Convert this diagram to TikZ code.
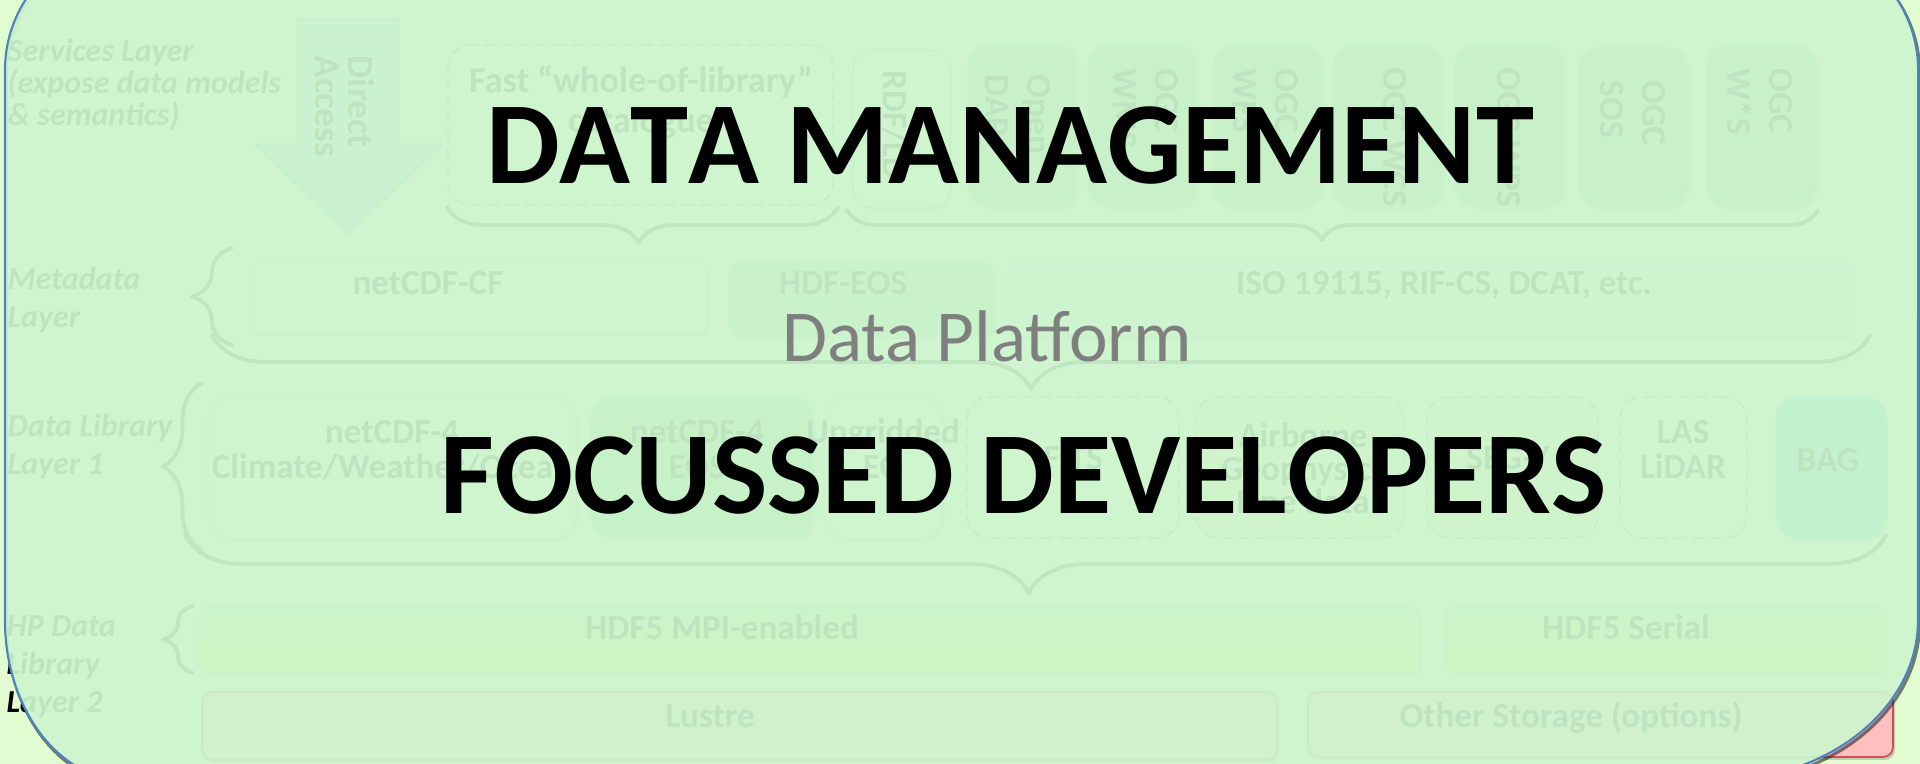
\documentclass[tikz,border=0pt]{standalone}
\usepackage{fontspec}
\setmainfont{Carlito}
\usetikzlibrary{decorations.pathreplacing,shadows}

\definecolor{slidebg}{HTML}{E0FCD0}
\definecolor{veil}{HTML}{CDF5CE}
\definecolor{veilline}{HTML}{4F81BD}
\definecolor{svcfill}{HTML}{90C89C}
\definecolor{rdffill}{HTML}{E4FFD8}
\definecolor{rdfline}{HTML}{70C070}
\definecolor{arrowfill}{HTML}{A6D4F2}
\definecolor{arrowline}{HTML}{7AAAD8}
\definecolor{dashline}{HTML}{606060}
\definecolor{paleboxfill}{HTML}{EAFFE6}
\definecolor{paleboxline}{HTML}{A8D8A8}
\definecolor{greenbox}{HTML}{A0D8A0}
\definecolor{eosfill}{HTML}{86D286}
\definecolor{creamfill}{HTML}{F4F0A8}
\definecolor{bagfill}{HTML}{3CC8D4}
\definecolor{hdftop}{HTML}{B8E8A0}
\definecolor{hdfbot}{HTML}{F8F838}
\definecolor{storefill}{HTML}{FFBFBF}
\definecolor{storeline}{HTML}{D05050}
\definecolor{bracecol}{HTML}{202020}
\definecolor{platgray}{HTML}{7F7F7F}

% box from top-left (x1,y1) to bottom-right (x2,y2), in pixel units
\newcommand\pxbox[6]{\node[#2, minimum width={(#5-#3)*0.01cm}, minimum height={(#6-#4)*0.01cm}] (#1) at ({(#3+#5)/2},{(#4+#6)/2}) {};}

\begin{document}
\begin{tikzpicture}[x=0.01cm, y=-0.01cm,
  base box/.style={rectangle, inner sep=0pt, outer sep=0pt, line width=0.35pt,
    drop shadow={shadow xshift=0.02cm, shadow yshift=-0.03cm, opacity=0.35}},
  svcbox/.style={base box, rounded corners=0.2cm, fill=svcfill, draw=svcfill!80!white},
  rdfbox/.style={base box, rounded corners=0.2cm, fill=rdffill, draw=rdfline},
  dashbox/.style={rectangle, inner sep=0pt, rounded corners=0.22cm, draw=dashline, dashed, line width=0.35pt, dash pattern=on 3pt off 2pt},
  metabox/.style={base box, rounded corners=0.12cm, fill=paleboxfill, draw=paleboxline},
  libbox/.style={base box, rounded corners=0.22cm, fill=paleboxfill, draw=paleboxline},
  hdfbox/.style={base box, rounded corners=0.1cm, top color=hdftop, bottom color=hdfbot, draw=paleboxline},
  storebox/.style={base box, rounded corners=0.1cm, fill=storefill, draw=storeline, line width=0.5pt},
  layerlbl/.style={font=\fontsize{9.1}{10.9}\selectfont\bfseries\itshape, align=left, anchor=base west, inner sep=0pt, text=black},
  boxtxt/.style={font=\fontsize{10}{10.2}\selectfont\bfseries, align=center, anchor=base, inner sep=0pt, text=black},
  vtxt/.style={font=\fontsize{10}{12.2}\selectfont\bfseries, align=left, anchor=base west, rotate=-90, inner sep=0pt, text=black},
  bracket/.style={decorate, draw=bracecol, line width=1.1pt, line cap=round, line join=round},
  bigtxt/.style={font=\fontsize{33.3}{40}\selectfont\bfseries\addfontfeatures{Kerning=Off}, anchor=base, inner sep=0pt, text=black},
]
\useasboundingbox (0,0) rectangle (1920,764);
\fill[slidebg] (0,0) rectangle (1920,764);

% multi-line nodes are placed by the baseline of their last line
% ---------------- layer labels ----------------
\node[layerlbl, font=\fontsize{9.1}{9.1}\selectfont\bfseries\itshape] (lsvc) at (7,126) {Services Layer\\(expose data models\\\& semantics)};
\node[layerlbl] (lmeta) at (7,328) {Metadata\\Layer};
\node[layerlbl] (llib) at (7,475) {Data Library\\Layer 1};
\node[layerlbl] (lhp) at (6,713) {HP Data\\Library\\Layer 2};

% ---------------- services layer ----------------
\draw[fill=arrowfill, draw=arrowline, line width=0.35pt]
  (298,19) -- (398,19) -- (398,144) -- (442,144) -- (348,235) -- (255,144) -- (298,144) -- cycle;
\node[vtxt, font=\fontsize{10.5}{9.4}\selectfont\bfseries] (direct) at (315,55) {Direct\\Access};

\pxbox{fast}{dashbox}{448}{45}{833}{205}
\node[boxtxt, font=\fontsize{10.3}{11.4}\selectfont\bfseries] (fastt) at (641,133) {Fast “whole-of-library”\\catalogue};

\pxbox{rdf}{rdfbox}{853}{50}{950}{208}
\pxbox{opendap}{svcbox}{968}{45}{1078}{207}
\pxbox{wms}{svcbox}{1088}{45}{1197}{207}
\pxbox{wfs}{svcbox}{1213}{45}{1322}{207}
\pxbox{wcs}{svcbox}{1333}{45}{1443}{207}
\pxbox{wps}{svcbox}{1455}{45}{1565}{207}
\pxbox{sos}{svcbox}{1578}{47}{1688}{207}
\pxbox{wxs}{svcbox}{1706}{45}{1816}{207}
\node[vtxt] (rdft) at (883,70) {RDF/LD};
\node[vtxt] (opendapt) at (985,74) {Open\\DAP};
\node[vtxt] (wmst) at (1113,68) {OGC\\WMS};
\node[vtxt] (wfst) at (1233,68) {OGC\\WFS};
\node[vtxt] (wcst) at (1383,67) {OGC WCS};
\node[vtxt] (wpst) at (1497,67) {OGC WPS};
\node[vtxt] (sost) at (1600,80) {OGC\\SOS};
\node[vtxt] (wxst) at (1727,68) {OGC\\W*S};

\draw[bracket, decoration={brace, mirror, amplitude=0.36cm, aspect=0.49}] (447,207) -- (838,207);
\draw[bracket, decoration={brace, mirror, amplitude=0.30cm, aspect=0.489}] (847,210) -- (1818,210);

% ---------------- metadata layer ----------------
\pxbox{cf}{metabox}{249}{262}{708}{333}
\pxbox{hdfeos}{metabox, fill=greenbox}{729}{262}{994}{336}
\pxbox{iso}{metabox, fill=paleboxfill!70!greenbox}{1008}{260}{1853}{337}
\node[boxtxt] (cft) at (428,295) {netCDF-CF};
\node[boxtxt] (hdfeost) at (843,295) {HDF-EOS};
\node[boxtxt] (isot) at (1444,295) {ISO 19115, RIF-CS, DCAT, etc.};
\draw[bracket, decoration={brace, amplitude=0.40cm}] (232,345) -- (232,248);
\draw[bracket, decoration={brace, mirror, amplitude=0.54cm, aspect=0.494}] (212,335) -- (1870,335);

% ---------------- data library layer 1 ----------------
\pxbox{clim}{libbox}{208}{397}{576}{538}
\pxbox{eos}{libbox, fill=eosfill}{591}{397}{814}{538}
\pxbox{ungrid}{libbox}{824}{397}{943}{538}
\pxbox{fits}{dashbox}{967}{397}{1179}{538}
\pxbox{air}{dashbox, fill=creamfill}{1196}{397}{1404}{538}
\pxbox{segy}{dashbox, fill=creamfill}{1427}{397}{1598}{538}
\pxbox{las}{dashbox}{1620}{397}{1747}{538}
\pxbox{bag}{libbox, fill=bagfill, draw=bagfill}{1776}{397}{1886}{538}
\node[boxtxt] (climt) at (392,479) {netCDF-4\\Climate/Weather/Ocean};
\node[boxtxt] (eost) at (697,479) {netCDF-4\\EOS};
\node[boxtxt] (ungridt) at (883,479) {Ungridded\\EO};
\node[boxtxt] (fitst) at (1073,470) {FITS};
\node[boxtxt, font=\fontsize{10}{9.5}\selectfont\bfseries] (airt) at (1303,514) {Airborne\\Geophysics\\Line data};
\node[boxtxt] (segyt) at (1508,470) {SEG-Y};
\node[boxtxt] (last) at (1683,479) {LAS\\LiDAR};
\node[boxtxt] (bagt) at (1828,472) {BAG};
\draw[bracket, decoration={brace, amplitude=0.39cm}] (202,550) -- (202,383);
\draw[bracket, decoration={brace, mirror, amplitude=0.58cm, aspect=0.496}] (185,535) -- (1886,535);

% ---------------- HP data library layer 2 ----------------
\pxbox{mpi}{hdfbox}{200}{606}{1420}{673}
\pxbox{serial}{hdfbox}{1445}{606}{1886}{673}
\pxbox{lustre}{storebox}{202}{692}{1277}{760}
\pxbox{other}{storebox}{1308}{692}{1893}{757}
\node[boxtxt] (mpit) at (722,640) {HDF5 MPI-enabled};
\node[boxtxt] (serialt) at (1626,640) {HDF5 Serial};
\node[boxtxt] (lustret) at (710,728) {Lustre};
\node[boxtxt] (othert) at (1571,728) {Other Storage (options)};
\draw[bracket, decoration={brace, amplitude=0.30cm}] (193,673) -- (193,606);

% ---------------- translucent veil over the whole diagram ----------------
\def\veilpath{(5,620) -- (5,70) arc[start angle=180, end angle=90, radius=1.3cm]
  -- (1788,-60) arc[start angle=90, end angle=0, radius=1.3cm]
  -- (1918,620) arc[start angle=0, end angle=-90, x radius=2cm, y radius=1.6cm]
  -- (125,780) arc[start angle=270, end angle=180, x radius=1.2cm, y radius=1.6cm] -- cycle}
\draw[black!85, opacity=0.6, line width=0.9pt, xshift=0.015cm, yshift=-0.03cm] \veilpath;
\filldraw[fill=veil, fill opacity=0.93, draw=veilline, line width=0.6pt] \veilpath;

% ---------------- headline text ----------------
\node[font=\fontsize{20.8}{24}\selectfont, text=platgray, anchor=base, inner sep=0pt] (platform) at (987,362) {Data Platform};
\node[bigtxt] (mgmt) at (1010,184) {DATA MANAGEMENT};
\node[bigtxt] (devs) at (1024,514) {FOCUSSED DEVELOPERS};
\end{tikzpicture}
\end{document}
